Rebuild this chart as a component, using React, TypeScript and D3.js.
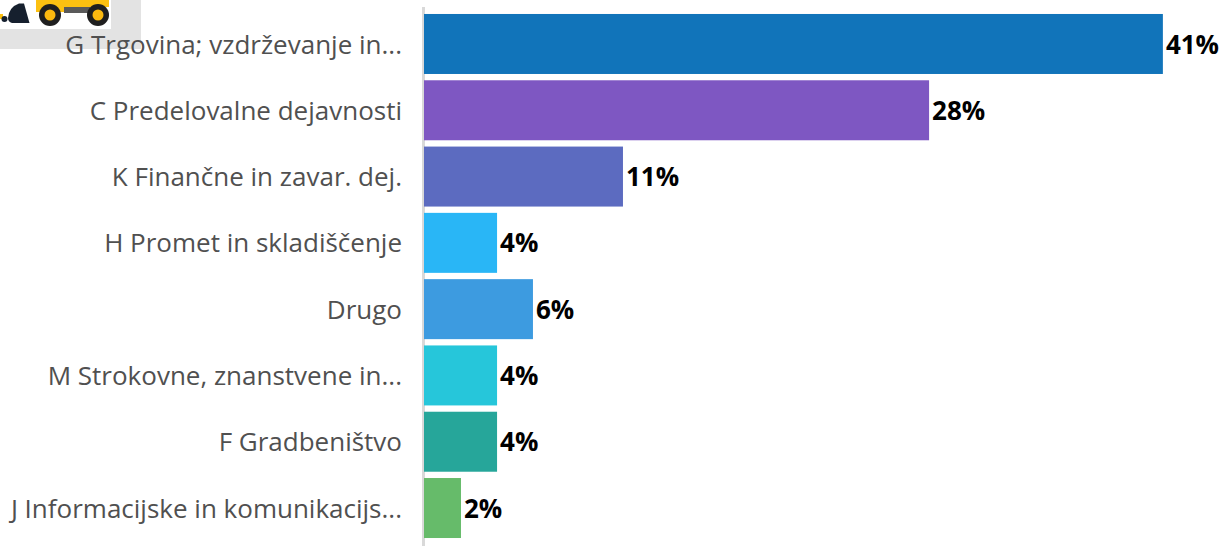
import React from "react";
import * as d3 from "d3";

const categories = [
  "G Trgovina; vzdrževanje in...",
  "C Predelovalne dejavnosti",
  "K Finančne in zavar. dej.",
  "H Promet in skladiščenje",
  "Drugo",
  "M Strokovne, znanstvene in...",
  "F Gradbeništvo",
  "J Informacijske in komunikacijs...",
];
const values = [40.96, 28, 11.03, 4.05, 6.04, 4.05, 4.05, 2.05];
const valueLabels = ["41%", "28%", "11%", "4%", "6%", "4%", "4%", "2%"];
const colors = ["#1174ba", "#7e57c2", "#5c6bc0", "#29b6f6", "#3d9be0", "#26c6da", "#26a69a", "#66bb6a"];

const W = 1222;
const H = 546;
const FONT = "'Open Sans', sans-serif";

export default function App() {
  const x = d3.scaleLinear().domain([0, 41]).range([424, 1163.6]);
  const y = d3.scaleBand<number>().domain(d3.range(categories.length)).range([10.8, 541.2]).paddingInner(0.095).paddingOuter(0.048);
  return (
    <svg width={W} height={H} viewBox={`0 0 ${W} ${H}`} style={{ position: "absolute", left: 0, top: 0, fontFamily: FONT }}>
      <rect x={0} y={0} width={141} height={49} fill="#e3e3e3" />
      <rect x={0} y={0} width={111} height={29} fill="#ffffff" />
      <g>
        <rect x={63} y={0} width={46} height={7} fill="#fcc011" />
        <rect x={36} y={0} width={28} height={12} fill="#fcc011" />
        <rect x={64} y={7} width={26} height={6} fill="#5a5a5a" />
        <rect x={0} y={14} width={3} height={5} fill="#fcc011" />
        <path d="M8 18 Q9 7 19 3.5 L24 3.5 L29.5 23 L12 23 Q8 22 8 18 Z" fill="#16202e" />
        <circle cx={4.5} cy={19} r={3} fill="#16202e" />
        <circle cx={50} cy={15} r={11} fill="#1f1f1f" />
        <circle cx={50} cy={15} r={5.5} fill="#fcb90f" />
        <circle cx={98} cy={15} r={11} fill="#1f1f1f" />
        <circle cx={98} cy={15} r={5.5} fill="#fcb90f" />
      </g>
      <rect x={422} y={7} width={3} height={539} fill="#d9d9d9" />
      {categories.map((c, i) => {
        const by = y(i)!;
        const bh = y.bandwidth();
        return (
          <g key={c}>
            <rect x={x(0)} y={by} width={x(values[i]) - x(0)} height={bh} fill={colors[i]} />
            <text x={402} y={by + bh / 2 + 0.5} dy="0.35em" textAnchor="end" fontSize={26} fill="#505050">{c}</text>
            <text x={x(values[i]) + 3} y={by + bh / 2 + 0.5} dy="0.35em" fontSize={26} fontWeight={700} fill="#000">{valueLabels[i]}</text>
          </g>
        );
      })}
    </svg>
  );
}
